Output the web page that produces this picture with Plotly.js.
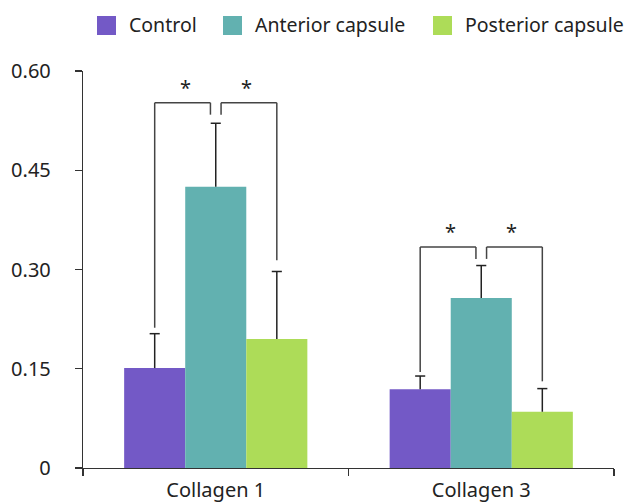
<!DOCTYPE html>
<html>
<head>
<meta charset="utf-8">
<script src="https://cdn.plot.ly/plotly-3.0.1.min.js"></script>
<style>html,body{margin:0;padding:0;background:#fff;}#chart{width:625px;height:504px;}</style>
</head>
<body>
<div id="chart"></div>
<script>
// ---- data ----
const categories = ['Collagen 1', 'Collagen 3'];
const seriesNames = ['Control', 'Anterior capsule', 'Posterior capsule'];
const controlValues = [0.151, 0.119];
const anteriorValues = [0.425, 0.257];
const posteriorValues = [0.195, 0.085];
const controlErrUp = [0.052, 0.020];
const anteriorErrUp = [0.096, 0.049];
const posteriorErrUp = [0.102, 0.035];
// significance brackets (one per category)
const bracketTop = [0.552, 0.334];
const bracketLeftEnd = [0.212, 0.145];
const bracketRightEnd = [0.314, 0.131];
const starLabel = '*';
const yTickVals = [0, 0.15, 0.30, 0.45, 0.60];
const yTickText = ['0', '0.15', '0.30', '0.45', '0.60'];

const colors = ['#7359C6', '#62B1B0', '#ADDC58'];
const values = [controlValues, anteriorValues, posteriorValues];
const errs = [controlErrUp, anteriorErrUp, posteriorErrUp];

const W = 625, H = 504;
const M = {l: 83, r: 11, t: 71, b: 36};
const pw = W - M.l - M.r, ph = H - M.t - M.b;
const px2x = p => (p - M.l) / pw;
const px2y = p => (H - M.b - p) / ph;

const bargap = 0.31;
const barW = (1 - bargap) / 3;
const font = 'Noto Sans, sans-serif';
const textCol = '#222';
const lineCol = '#333';

const traces = seriesNames.map((name, j) => ({
  type: 'bar',
  name: name,
  x: categories,
  y: values[j],
  marker: {color: colors[j], line: {width: 0}},
  hoverinfo: 'skip',
  showlegend: false
}));

const shapes = [];
const annotations = [];
categories.forEach((c, i) => {
  // error bars (upper only)
  for (let j = 0; j < 3; j++) {
    const xc = i + (j - 1) * barW;
    const top = values[j][i] + errs[j][i];
    shapes.push({type: 'line', xref: 'x', yref: 'y', x0: xc, x1: xc, y0: values[j][i], y1: top,
      line: {color: '#222', width: 1.5}});
    shapes.push({type: 'line', xref: 'x', yref: 'y', x0: xc - 0.019, x1: xc + 0.019, y0: top, y1: top,
      line: {color: '#222', width: 1.5}});
  }
  // brackets
  const xP = i - barW, xT = i, xG = i + barW;
  const d = 0.02, drop = 0.018, T = bracketTop[i];
  const bl = {color: '#444', width: 1.5};
  const seg = (x0, y0, x1, y1) => shapes.push({type: 'line', xref: 'x', yref: 'y', x0, y0, x1, y1, line: bl});
  seg(xP, bracketLeftEnd[i], xP, T);
  seg(xP, T, xT - d, T);
  seg(xT - d, T, xT - d, T - drop);
  seg(xT + d, T - drop, xT + d, T);
  seg(xT + d, T, xG, T);
  seg(xG, T, xG, bracketRightEnd[i]);
  [(xP + xT) / 2, (xT + xG) / 2].forEach(xs => annotations.push({
    x: xs, y: T, xref: 'x', yref: 'y', text: starLabel, showarrow: false,
    yanchor: 'bottom', yshift: 0, font: {family: font, size: 20, color: textCol}
  }));
});
// short extension of x-axis line to the left of the y axis
shapes.push({type: 'line', xref: 'paper', yref: 'y', x0: px2x(75), x1: 0, y0: 0, y1: 0,
  line: {color: lineCol, width: 1.2}});

// legend (square swatches + labels)
const legSq = [97, 223, 433];
const legTx = [127, 253, 463];
seriesNames.forEach((name, j) => {
  shapes.push({type: 'rect', xref: 'paper', yref: 'paper',
    x0: px2x(legSq[j]), x1: px2x(legSq[j] + 19), y0: px2y(35), y1: px2y(16),
    fillcolor: colors[j], line: {width: 0}});
  annotations.push({xref: 'paper', yref: 'paper', x: px2x(legTx[j]), y: px2y(25),
    xanchor: 'left', yanchor: 'middle', text: name, showarrow: false,
    font: {family: font, size: 19.5, color: textCol}});
});

const layout = {
  width: W, height: H,
  margin: Object.assign({autoexpand: false}, M),
  paper_bgcolor: '#fff', plot_bgcolor: '#fff',
  font: {family: font, size: 20, color: textCol},
  barmode: 'group', bargap: bargap, bargroupgap: 0,
  showlegend: false,
  xaxis: {
    type: 'category', range: [-0.5, 1.5], showline: true, linecolor: lineCol, linewidth: 1.2,
    ticks: 'outside', tickson: 'boundaries', ticklen: 7, tickcolor: lineCol, tickwidth: 1.2,
    showgrid: false, zeroline: false, ticklabelstandoff: 4,
    tickfont: {family: font, size: 20, color: textCol}
  },
  yaxis: {
    range: [0, 0.6], showline: true, linecolor: lineCol, linewidth: 1.2,
    ticks: 'outside', ticklen: 7, tickcolor: lineCol, tickwidth: 1.2,
    tickvals: yTickVals, ticktext: yTickText, showgrid: false, zeroline: false,
    ticklabelstandoff: 20, tickfont: {family: font, size: 20, color: textCol}
  },
  shapes: shapes,
  annotations: annotations
};

Plotly.newPlot('chart', traces, layout, {staticPlot: true, displayModeBar: false});
</script>
</body>
</html>
